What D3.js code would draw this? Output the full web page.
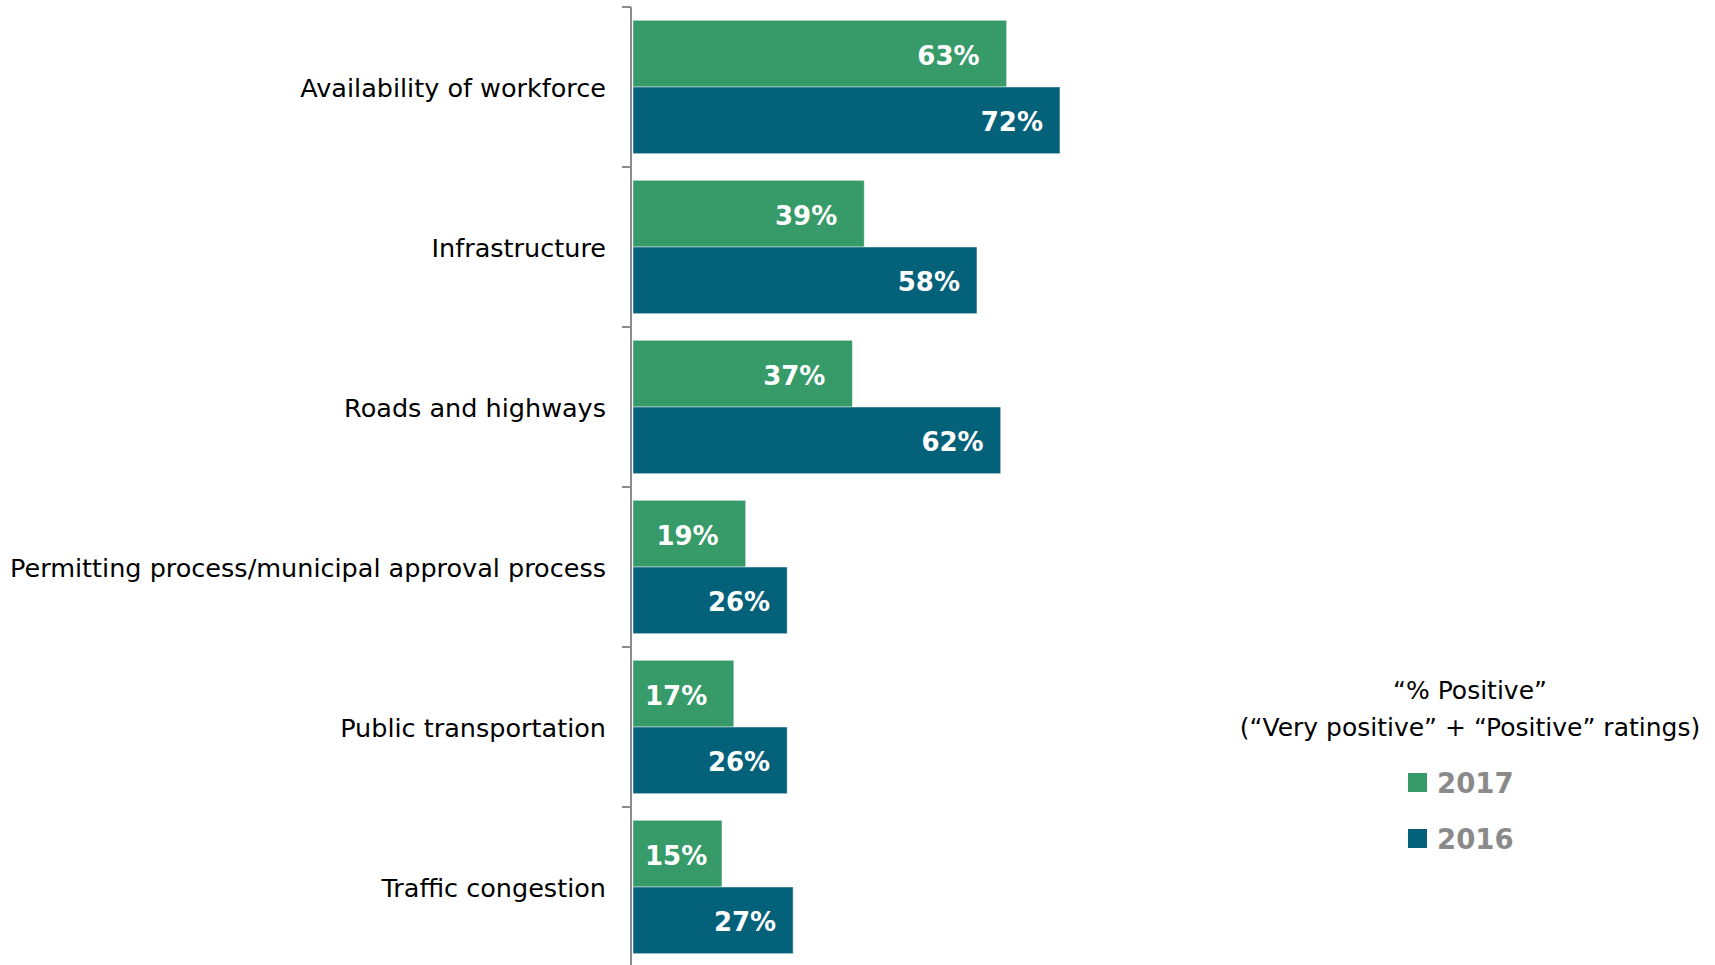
<!DOCTYPE html>
<html>
<head>
<meta charset="utf-8">
<script src="https://cdn.jsdelivr.net/npm/d3@7"></script>
<style>
  html, body { margin: 0; padding: 0; background: #ffffff; }
  svg { display: block; }
</style>
</head>
<body>
<svg id="chart" width="1715" height="965"></svg>
<script>
// Categories (top to bottom) and the two survey years
const categories = [
  "Availability of workforce",
  "Infrastructure",
  "Roads and highways",
  "Permitting process/municipal approval process",
  "Public transportation",
  "Traffic congestion"
];
const seriesNames = ["2017", "2016"];
const values2017 = [63, 39, 37, 19, 17, 15];
const values2016 = [72, 58, 62, 26, 26, 27];
const legendTitle = ["\u201C% Positive\u201D", "(\u201CVery positive\u201D + \u201CPositive\u201D ratings)"];

const colors = { "2017": "#369b69", "2016": "#04617a" };
const seriesValues = { "2017": values2017, "2016": values2016 };

const svg = d3.select("#chart");
const fontFamily = "'DejaVu Sans', sans-serif";

// Scales
const y = d3.scaleBand().domain(categories).range([7, 967]).paddingInner(0).paddingOuter(0);
const ySub = d3.scaleBand().domain(seriesNames).range([0, y.bandwidth()]).paddingInner(0).paddingOuter(0.2);
const x = d3.scaleLinear().domain([0, 100]).range([633, 1226]);

// Rows of data
const rows = categories.map((c, i) => ({ category: c, values: seriesNames.map(s => ({ series: s, value: seriesValues[s][i] })) }));

// Bars
const groups = svg.append("g").selectAll("g")
  .data(rows).join("g")
  .attr("transform", d => `translate(0,${y(d.category)})`);

groups.selectAll("rect")
  .data(d => d.values).join("rect")
  .attr("x", x(0))
  .attr("y", d => ySub(d.series))
  .attr("width", d => x(d.value) - x(0))
  .attr("height", ySub.bandwidth())
  .attr("fill", d => colors[d.series])
  .attr("stroke", "rgba(255,255,255,0.45)")
  .attr("stroke-width", 1);

// Value labels inside the bar ends, kept clear of the bar start on short bars
groups.selectAll("text.value")
  .data(d => d.values).join("text")
  .attr("class", "value")
  .attr("y", d => ySub(d.series) + ySub.bandwidth() / 2 + 11)
  .attr("text-anchor", "end")
  .attr("font-family", fontFamily)
  .attr("font-weight", "bold")
  .attr("font-size", 26)
  .attr("fill", "#ffffff")
  .text(d => d.value + "%")
  .attr("x", function (d) {
    const w = this.getComputedTextLength();
    const end = x(d.value) - (d.series === "2017" ? 27 : 17);
    return Math.max(end, x(0) + 12 + w);
  });

// Category axis with ticks between groups
const axis = svg.append("g");
axis.append("line")
  .attr("x1", 631).attr("x2", 631)
  .attr("y1", y.range()[0]).attr("y2", y.range()[1])
  .attr("stroke", "#8c8c8c").attr("stroke-width", 2);
const boundaries = categories.map(c => y(c)).concat([y.range()[1]]);
axis.selectAll("line.tick")
  .data(boundaries).join("line")
  .attr("class", "tick")
  .attr("x1", 622).attr("x2", 631)
  .attr("y1", d => d).attr("y2", d => d)
  .attr("stroke", "#8c8c8c").attr("stroke-width", 2);

axis.selectAll("text.cat")
  .data(categories).join("text")
  .attr("class", "cat")
  .attr("x", 606)
  .attr("y", d => y(d) + y.bandwidth() / 2 + 10)
  .attr("text-anchor", "end")
  .attr("font-family", fontFamily)
  .attr("font-size", 25.5)
  .attr("fill", "#000000")
  .text(d => d);

// Legend
const legend = svg.append("g");
legend.selectAll("text.title")
  .data(legendTitle).join("text")
  .attr("class", "title")
  .attr("x", 1470)
  .attr("y", (d, i) => 699 + i * 37)
  .attr("text-anchor", "middle")
  .attr("font-family", fontFamily)
  .attr("font-size", 25)
  .attr("fill", "#000000")
  .text(d => d);

const items = legend.selectAll("g.item")
  .data(seriesNames).join("g")
  .attr("class", "item")
  .attr("transform", (d, i) => `translate(1408,${773 + i * 56})`);
items.append("rect")
  .attr("width", 19).attr("height", 19)
  .attr("fill", d => colors[d]);
items.append("text")
  .attr("x", 29).attr("y", 20)
  .attr("font-family", fontFamily)
  .attr("font-weight", "bold")
  .attr("font-size", 27.5)
  .attr("fill", "#8a8a8a")
  .text(d => d);
</script>
</body>
</html>
